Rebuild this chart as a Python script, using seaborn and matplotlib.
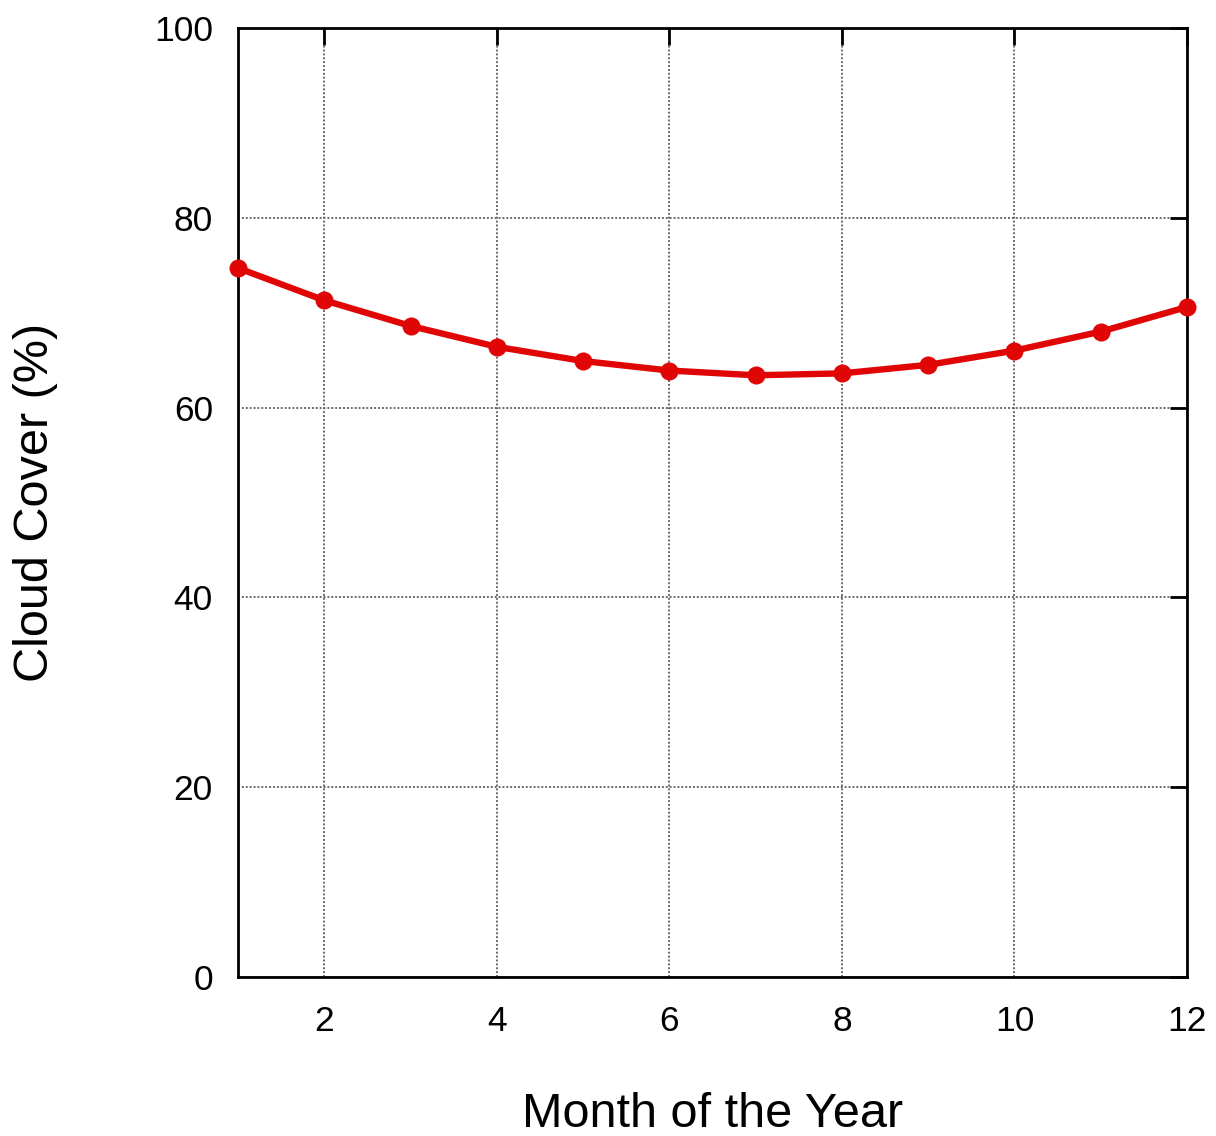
import matplotlib
matplotlib.use("Agg")
import matplotlib.pyplot as plt
import seaborn as sns
import pandas as pd

# Monthly mean cloud cover
months = [1, 2, 3, 4, 5, 6, 7, 8, 9, 10, 11, 12]
cloud_cover = [74.7, 71.3, 68.6, 66.4, 64.9, 63.9, 63.4, 63.6, 64.5, 66.0, 68.0, 70.6]

x_ticks = [2, 4, 6, 8, 10, 12]
y_ticks = [0, 20, 40, 60, 80, 100]

sns.set_theme(style="white")
plt.rcParams["font.family"] = ["Liberation Sans", "DejaVu Sans"]

df = pd.DataFrame({"month": months, "cover": cloud_cover})

fig = plt.figure(figsize=(12.16, 11.36), dpi=100)
ax = fig.add_axes([0.1957, 0.14, 0.7805, 0.8354])

ax.grid(True, color="#6a6a6a", linestyle=(0, (1, 1)), linewidth=1.4)
ax.set_axisbelow(True)

sns.lineplot(data=df, x="month", y="cover", ax=ax, color="#e00606",
             linewidth=4.6, marker="o", markersize=13, markeredgewidth=0,
             clip_on=False, zorder=5)

ax.set_xlim(1, 12)
ax.set_ylim(0, 100)
ax.set_xticks(x_ticks)
ax.set_yticks(y_ticks)

for s in ax.spines.values():
    s.set_color("black")
    s.set_linewidth(2)

ax.tick_params(axis="both", direction="in", length=12, width=2, color="black",
               labelsize=25.5, labelcolor="black", top=True, right=True)
ax.tick_params(axis="y", pad=18)
ax.tick_params(axis="x", pad=20)

ax.set_xlabel("Month of the Year", fontsize=35, color="black", labelpad=39)
ax.set_ylabel("Cloud Cover (%)", fontsize=35, color="black", labelpad=69)

fig.savefig("out.png", dpi=100, facecolor="white")
